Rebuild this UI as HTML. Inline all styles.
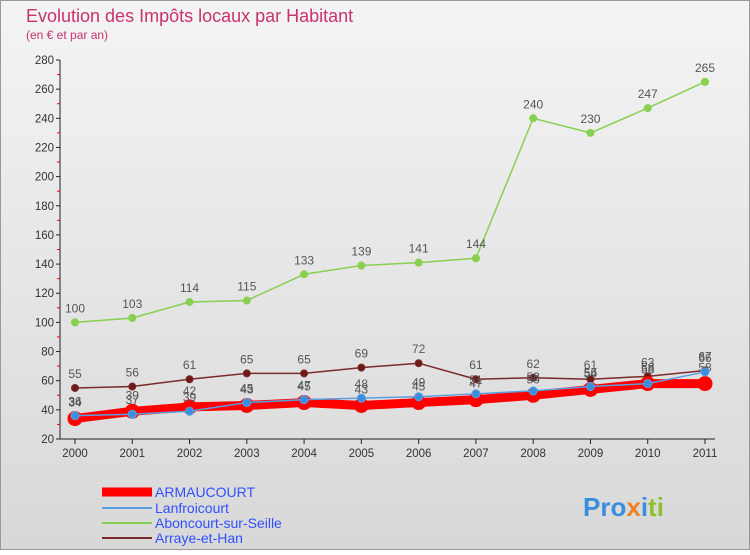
<!DOCTYPE html>
<html><head><meta charset="utf-8"><style>
body{margin:0;width:750px;height:550px;overflow:hidden;font-family:"Liberation Sans",sans-serif}
svg text{font-family:"Liberation Sans",sans-serif}
</style></head><body>
<svg width="750" height="550" viewBox="0 0 750 550">
<defs><linearGradient id="bg" x1="0" y1="0" x2="0" y2="1"><stop offset="0" stop-color="#f4f4f4"/><stop offset="1" stop-color="#d8d8d8"/></linearGradient></defs>
<rect x="0.5" y="0.5" width="749" height="549" fill="url(#bg)" stroke="#999"/>
<text x="26" y="22" font-size="18" fill="#c8326e">Evolution des Impôts locaux par Habitant</text>
<text x="26" y="39" font-size="12" fill="#c8326e">(en € et par an)</text>
<g id="axes"></g>
<g id="series"></g>
<g font-size="14">
<line x1="102" y1="492" x2="152" y2="492" stroke="#ff0000" stroke-width="9"/>
<text x="155" y="497" fill="#3050ff">ARMAUCOURT</text>
<line x1="102" y1="508" x2="152" y2="508" stroke="#5aa0e0" stroke-width="2"/>
<text x="155" y="513" fill="#3050ff">Lanfroicourt</text>
<line x1="102" y1="523" x2="152" y2="523" stroke="#88d050" stroke-width="2"/>
<text x="155" y="528" fill="#3050ff">Aboncourt-sur-Seille</text>
<line x1="102" y1="538" x2="152" y2="538" stroke="#7a2a2a" stroke-width="2"/>
<text x="155" y="543" fill="#3050ff">Arraye-et-Han</text>
</g>
<text x="583" y="516" font-size="26" font-weight="bold"><tspan fill="#3a8ee0">Pro</tspan><tspan fill="#f08020">x</tspan><tspan fill="#3a8ee0">i</tspan><tspan fill="#90c030">ti</tspan></text>
</svg>
<script>
const years=[2000,2001,2002,2003,2004,2005,2006,2007,2008,2009,2010,2011];
const armaucourt=[34,39,42,43,45,43,45,47,50,54,58,58];
const lanfroicourt=[36,37,39,45,47,48,49,51,53,56,58,66];
const aboncourt=[100,103,114,115,133,139,141,144,240,230,247,265];
const arraye=[55,56,61,65,65,69,72,61,62,61,63,67];
const yTicks=[20,40,60,80,100,120,140,160,180,200,220,240,260,280];
const NS="http://www.w3.org/2000/svg";
const x0=75,x1=705,yBase=439,yTop=60,vMin=20,vMax=280;
const X=i=>x0+(x1-x0)*i/(years.length-1);
const Y=v=>yBase-(v-vMin)*(yBase-yTop)/(vMax-vMin);
function mk(tag,attrs,parent){const e=document.createElementNS(NS,tag);for(const k in attrs)e.setAttribute(k,attrs[k]);parent.appendChild(e);return e;}
const ax=document.getElementById('axes');
let l=mk('line',{x1:60,y1:yTop,x2:60,y2:yBase,stroke:'#222'},ax);


l=mk('line',{x1:60,y1:yBase,x2:715,y2:yBase,stroke:'#222'},ax);


yTicks.forEach(v=>{
 const t=mk('line',{x1:56,y1:Y(v),x2:60,y2:Y(v),stroke:'#222'},ax);
 
 
 if(v<vMax){const m=mk('line',{x1:57,y1:Y(v+10),x2:60,y2:Y(v+10),stroke:'#e00'},ax);
 
 }
 const tx=mk('text',{x:54,y:Y(v)+4,'font-size':11.5,'text-anchor':'end',fill:'#333'},ax);tx.textContent=v;
 
 
});
years.forEach((yr,i)=>{
 const t=mk('line',{x1:X(i),y1:yBase,x2:X(i),y2:yBase+5,stroke:'#222'},ax);
 
 
 const tx=mk('text',{x:X(i),y:yBase+18,'font-size':11.5,'text-anchor':'middle',fill:'#333'},ax);tx.textContent=yr;
 
 
});
const sg=document.getElementById('series');
function series(vals,name,color,w,r,pt,labelDy){
 const g=mk('g',{},sg);
 
 
 const p=mk('polyline',{points:vals.map((v,i)=>X(i)+','+Y(v)).join(' '),fill:'none',stroke:color,'stroke-width':w,'stroke-linejoin':'round'},g);
 
 
 vals.forEach((v,i)=>{
  const c=mk('circle',{cx:X(i),cy:Y(v),r:r,fill:pt,stroke:color,'stroke-width':1},g);
  
  
  const t=mk('text',{x:X(i),y:Y(v)-labelDy,'font-size':12,'text-anchor':'middle',fill:'#555'},g);t.textContent=v;
  
  
 });
}
series(arraye,'arraye','#7a2a2a',1.5,3.5,'#6a1a1a',10);
series(aboncourt,'aboncourt','#88d050',1.5,3.5,'#88d050',10);
series(armaucourt,'armaucourt','#ff0000',9,7,'#ff0000',12);
series(lanfroicourt,'lanfroicourt','#5aa0e0',1.5,4,'#3a8ee0',10);
</script>
</body></html>
